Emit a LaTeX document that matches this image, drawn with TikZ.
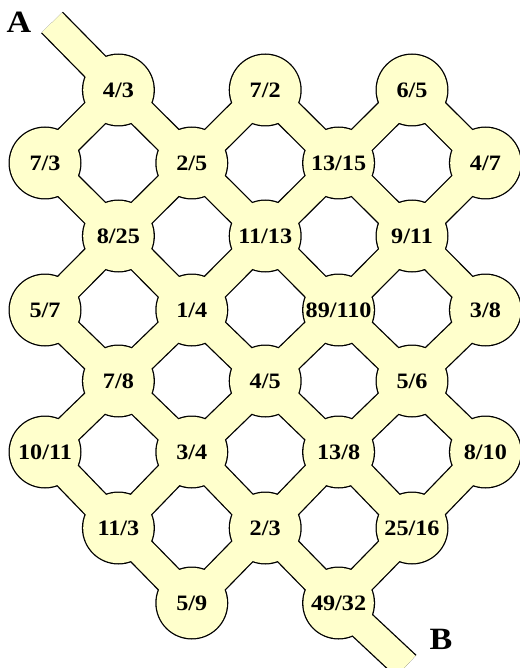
\documentclass[tikz,border=0pt]{standalone}
\usepackage{fontspec}
\setmainfont{Liberation Serif}[BoldFont={Liberation Serif Bold}, FakeStretch=1.1]
\pgfdeclarelayer{outline}
\pgfdeclarelayer{paint}
\pgfsetlayers{outline,paint,main}
\definecolor{pale}{RGB}{255,255,204}
\tikzset{
  frac/.style={font=\fontsize{22}{22}\selectfont\bfseries, inner sep=0pt, text height=14.8pt, text depth=0pt},
  endlab/.style={font=\fontsize{31}{31}\selectfont\bfseries, inner sep=0pt, text height=20.5pt, text depth=0pt},
  bandout/.style={line width=30.6pt, draw=black},
  bandin/.style={line width=28pt, draw=pale},
}
\begin{document}
\begin{tikzpicture}[x=1pt,y=-1pt]
\useasboundingbox (0,0) rectangle (519,668);
% row 0
\node[frac] (n10) at (118.4,90) {4/3};
\node[frac] (n30) at (265.2,90) {7/2};
\node[frac] (n50) at (412,90) {6/5};
% row 1
\node[frac] (n01) at (45,163) {7/3};
\node[frac] (n21) at (191.8,163) {2/5};
\node[frac] (n41) at (338.6,163) {13/15};
\node[frac] (n61) at (485.4,163) {4/7};
% row 2
\node[frac] (n12) at (118.4,236) {8/25};
\node[frac] (n32) at (265.2,236) {11/13};
\node[frac] (n52) at (412,236) {9/11};
% row 3
\node[frac] (n03) at (45,310) {5/7};
\node[frac] (n23) at (191.8,310) {1/4};
\node[frac] (n43) at (338.6,310) {89/110};
\node[frac] (n63) at (485.4,310) {3/8};
% row 4
\node[frac] (n14) at (118.4,381) {7/8};
\node[frac] (n34) at (265.2,381) {4/5};
\node[frac] (n54) at (412,381) {5/6};
% row 5
\node[frac] (n05) at (45,452) {10/11};
\node[frac] (n25) at (191.8,452) {3/4};
\node[frac] (n45) at (338.6,452) {13/8};
\node[frac] (n65) at (485.4,452) {8/10};
% row 6
\node[frac] (n16) at (118.4,528) {11/3};
\node[frac] (n36) at (265.2,528) {2/3};
\node[frac] (n56) at (412,528) {25/16};
% row 7
\node[frac] (n27) at (191.8,603) {5/9};
\node[frac] (n47) at (338.6,603) {49/32};
% ends
\node[endlab] (A) at (19,22) {A};
\node[endlab] (B) at (441,639) {B};
\coordinate (Aend) at (52,22.5);
\coordinate (Bend) at (406,666);

\def\allnodes{n10,n30,n50,n01,n21,n41,n61,n12,n32,n52,n03,n23,n43,n63,n14,n34,n54,n05,n25,n45,n65,n16,n36,n56,n27,n47}
\def\alledges{n10/n21,n30/n41,n50/n61,n01/n12,n21/n32,n41/n52,n12/n23,n32/n43,n52/n63,n03/n14,n23/n34,n43/n54,n14/n25,n34/n45,n54/n65,n05/n16,n25/n36,n45/n56,n16/n27,n36/n47,n01/n10,n21/n30,n41/n50,n12/n21,n32/n41,n52/n61,n03/n12,n23/n32,n43/n52,n14/n23,n34/n43,n54/n63,n05/n14,n25/n34,n45/n54,n16/n25,n36/n45,n56/n65,n27/n36,n47/n56}

\begin{pgfonlayer}{outline}
  \foreach \n in \allnodes { \fill[black] (\n.center) circle[radius=36.5pt]; }
  \foreach \a/\b in \alledges { \draw[bandout] (\a.center) -- (\b.center); }
  \draw[bandout] (Aend) -- (n10.center);
  \draw[bandout] (n47.center) -- (Bend);
\end{pgfonlayer}
\begin{pgfonlayer}{paint}
  \foreach \n in \allnodes { \fill[pale] (\n.center) circle[radius=35.2pt]; }
  \foreach \a/\b in \alledges { \draw[bandin] (\a.center) -- (\b.center); }
  \draw[bandin] (Aend) -- (n10.center);
  \draw[bandin] (n47.center) -- (Bend);
\end{pgfonlayer}
\end{tikzpicture}
\end{document}
